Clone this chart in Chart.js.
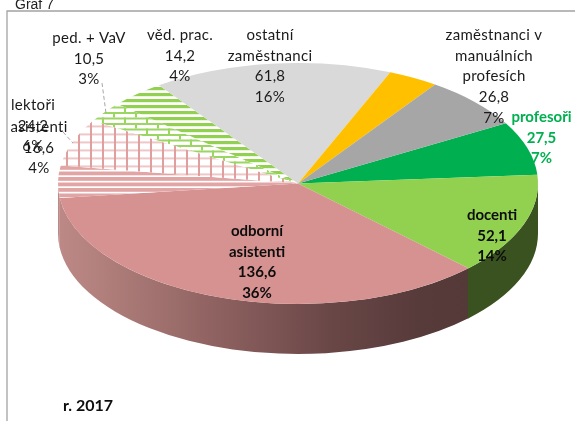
<!DOCTYPE html>
<html>
<head>
<meta charset="utf-8">
<style>html,body{margin:0;padding:0;background:#fff;overflow:hidden}canvas{display:block}</style>
<script src="https://cdn.jsdelivr.net/npm/chart.js@4"></script>
</head>
<body>
<canvas id="c" width="575" height="421"></canvas>
<script>
const categories = ['profesoři','docenti','odborní asistenti','asistenti','lektoři','ped. + VaV','věd. prac.','ostatní zaměstnanci','','zaměstnanci v manuálních profesích'];
const values = [27.5,52.1,136.6,16.6,24.2,10.5,14.2,61.8,13,26.8];
const percents = ['7%','14%','36%','4%','6%','3%','4%','16%','','7%'];
const nameLines = [['profesoři'],['docenti'],['odborní','asistenti'],['asistenti'],['lektoři'],['ped. + VaV'],['věd. prac.'],['ostatní','zaměstnanci'],[],['zaměstnanci v','manuálních','profesích']];
const labelX = [541.5,492,257,39,33,89,180,270,0,494];
const labelY = [117,215,231,127,105,38,35,35,0,35];
const labelBold = [true,true,true,false,false,false,false,false,false,false];
const labelColor = ['#00b050','#0d0d0d','#0d0d0d','#1a1a1a','#1a1a1a','#1a1a1a','#1a1a1a','#1a1a1a','#1a1a1a','#1a1a1a'];
const solid = ['#00b050','#92d050','#d69291',null,null,null,null,'#d9d9d9','#ffc000','#a6a6a6'];

const cx = 298, cy = 183.5, rx = 240, ry = 120.5, depth = 50;

function tile(w, h, draw) {
  const t = document.createElement('canvas');
  t.width = w; t.height = h;
  const g = t.getContext('2d');
  g.fillStyle = '#fff'; g.fillRect(0,0,w,h);
  draw(g);
  return t;
}
const ctx0 = document.getElementById('c').getContext('2d');
const patStripesPink = ctx0.createPattern(tile(11,11,g=>{
  g.fillStyle='#e0a5a4'; g.fillRect(0,0,11,3.8); g.fillRect(0,5.5,11,3.8);
}),'repeat');
const patGrid = ctx0.createPattern(tile(12,8,g=>{
  g.fillStyle='#ebbdbc'; g.fillRect(0,0,12,1.7);
  g.fillStyle='#df9f9e'; g.fillRect(0,0,2,8);
}),'repeat');
const patBrick = ctx0.createPattern(tile(22,11,g=>{
  g.fillStyle='#9bd562';
  g.fillRect(0,0,22,2); g.fillRect(0,5.5,22,2);
  g.fillRect(0,0,2,5.5); g.fillRect(11,5.5,2,5.5);
}),'repeat');
const patStripesGreen = ctx0.createPattern(tile(12,6,g=>{
  g.fillStyle='#92d050'; g.fillRect(0,0,12,3.2);
}),'repeat');
const patterns = [null,null,null,patStripesPink,patGrid,patBrick,patStripesGreen,null,null,null];
const fills = values.map((_,i)=>solid[i] || patterns[i]);
const phase = {3:[0,1],4:[6,5.5],5:[3,2],6:[0,3]};

const scene = {
  id:'scene',
  beforeDraw(chart){
    const c = chart.ctx;
    c.save();
    c.strokeStyle='#a3a3a3'; c.lineWidth=1.3;
    c.beginPath(); c.moveTo(7,425); c.lineTo(7,11); c.lineTo(580,11); c.stroke();
    c.font='14px "Liberation Sans"'; c.fillStyle='#222'; c.textAlign='left'; c.textBaseline='alphabetic';
    c.fillText('Graf 7',15,9);
    c.restore();
  },
  beforeDatasetDraw(chart,args){
    const c = chart.ctx, meta = args.meta, els = meta.data;
    const grad = c.createLinearGradient(58,0,469,0);
    grad.addColorStop(0,'#bd8987'); grad.addColorStop(.13,'#ae7d7a'); grad.addColorStop(.4,'#8c605f');
    grad.addColorStop(.66,'#6a4747'); grad.addColorStop(.88,'#573a3a'); grad.addColorStop(1,'#553838');
    const wallFill = {1:'#3a5220',2:grad,3:'#bd8987'};
    c.save();
    [3,2,1].forEach(i=>{
      const a = els[i];
      for(const k of [-1,0,1]){
        const s = Math.max(a.startAngle+k*2*Math.PI,0), e = Math.min(a.endAngle+k*2*Math.PI+0.004,Math.PI);
        if(e<=s) continue;
        c.fillStyle = wallFill[i];
        c.beginPath();
        c.ellipse(cx,cy,rx,ry,0,s,e);
        c.ellipse(cx,cy+depth,rx,ry,0,e,s,true);
        c.closePath(); c.fill();
      }
    });
    const e0 = els[0], r = e0.outerRadius;
    c.translate(cx,cy); c.scale(rx/r,ry/r); c.translate(-e0.x,-e0.y);
    const inv = c.getTransform().inverse();
    patterns.forEach((p,i)=>{
      if(!p) return;
      const ph = phase[i];
      p.setTransform(inv.multiply(new DOMMatrix().translate(ph[0],ph[1])));
    });
    meta.controller.draw();
    c.restore();
    return false;
  },
  afterDraw(chart){
    const c = chart.ctx;
    c.save();
    c.strokeStyle='#a6a6a6'; c.lineWidth=1; c.setLineDash([4,2.5]);
    c.beginPath(); c.moveTo(102,83); c.lineTo(106,113); c.moveTo(63,132); c.lineTo(73,143); c.stroke();
    c.setLineDash([]);
    c.textAlign='center'; c.textBaseline='middle';
    values.forEach((v,i)=>{
      if(!percents[i]) return;
      const lines = nameLines[i].concat([v.toFixed(1).replace('.',','),percents[i]]);
      c.font=(labelBold[i]?'bold ':'')+'15px Lato';
      c.letterSpacing=labelBold[i]?'0px':'0.3px';
      c.fillStyle=labelColor[i];
      lines.forEach((t,j)=>c.fillText(t,labelX[i],labelY[i]+j*20.7));
    });
    c.letterSpacing='0px';
    c.font='bold 16px Lato'; c.fillStyle='#0d0d0d'; c.textAlign='left';
    c.fillText('r. 2017',63,406);
    c.restore();
  }
};

new Chart(ctx0,{
  type:'pie',
  data:{labels:categories,datasets:[{data:values,backgroundColor:fills,borderWidth:0}]},
  options:{
    responsive:false,animation:false,rotation:60,
    plugins:{legend:{display:false},tooltip:{enabled:false},title:{display:false}}
  },
  plugins:[scene]
});
</script>
</body>
</html>
